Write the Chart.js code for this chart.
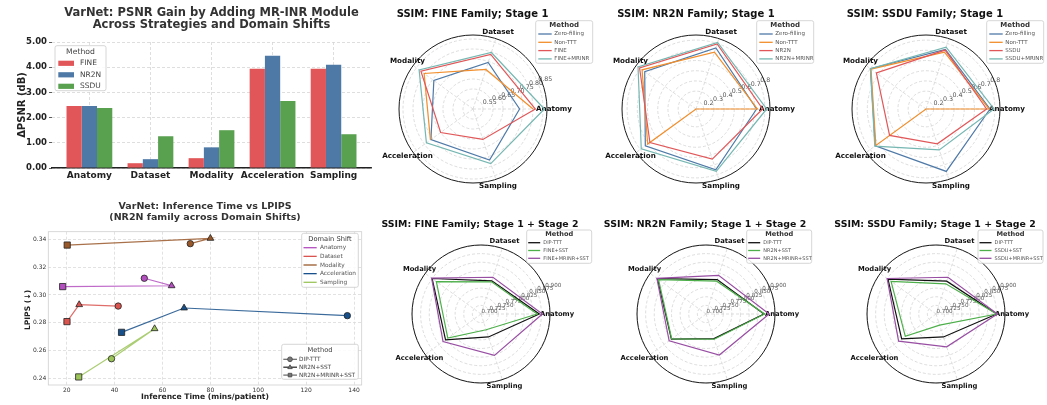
<!DOCTYPE html>
<html>
<head>
<meta charset="utf-8">
<script src="https://cdn.jsdelivr.net/npm/chart.js@4.4.0/dist/chart.umd.min.js"></script>
<style>
  body { margin: 0; background: #fff; width: 1047px; height: 405px; position: relative; overflow: hidden; }
  canvas { position: absolute; }
</style>
</head>
<body>
<canvas id="bars" width="372" height="200" style="left:0;top:0"></canvas>
<canvas id="lpips" width="372" height="205" style="left:0;top:200px"></canvas>
<canvas id="r1" width="228" height="200" style="left:372px;top:0"></canvas>
<canvas id="r2" width="225" height="200" style="left:600px;top:0"></canvas>
<canvas id="r3" width="222" height="200" style="left:825px;top:0"></canvas>
<canvas id="r4" width="228" height="205" style="left:372px;top:200px"></canvas>
<canvas id="r5" width="225" height="205" style="left:600px;top:200px"></canvas>
<canvas id="r6" width="222" height="205" style="left:825px;top:200px"></canvas>
<script>
// ---- data ----
const strategies = ['Anatomy', 'Dataset', 'Modality', 'Acceleration', 'Sampling'];

// PSNR gain (dB) from adding MR-INR
const gainFine = [2.46, 0.19, 0.39, 3.94, 3.94];
const gainNr2n = [2.46, 0.35, 0.82, 4.45, 4.10];
const gainSsdu = [2.38, 1.26, 1.50, 2.66, 1.34];
const gainTicks = [0, 1, 2, 3, 4, 5];

// inference time / LPIPS, order: DIP-TTT, NR2N+SST, NR2N+MRINR+SST
const methodsNr2n = ['DIP-TTT', 'NR2N+SST', 'NR2N+MRINR+SST'];
const timeAnatomy = [52.4, 63.8, 18.3];
const lpipsAnatomy = [0.3120, 0.3066, 0.3060];
const timeDataset = [41.5, 25.2, 20.1];
const lpipsDataset = [0.2920, 0.2930, 0.2808];
const timeModality = [71.6, 80.0, 20.2];
const lpipsModality = [0.3369, 0.3407, 0.3359];
const timeAcceleration = [137.2, 69.0, 42.9];
const lpipsAcceleration = [0.2851, 0.2906, 0.2731];
const timeSampling = [38.7, 56.7, 25.0];
const lpipsSampling = [0.2541, 0.2757, 0.2410];
const timeTicks = [20, 40, 60, 80, 100, 120, 140];
const lpipsTicks = [0.24, 0.26, 0.28, 0.30, 0.32, 0.34];

// SSIM per strategy (Anatomy, Dataset, Modality, Acceleration, Sampling)
const fineZeroFill = [0.733, 0.745, 0.742, 0.760, 0.768];
const fineNonTtt = [0.800, 0.708, 0.802, 0.763, null];
const fineBase = [0.812, 0.787, 0.822, 0.700, 0.660];
const fineMrinr = [0.857, 0.797, 0.833, 0.788, 0.787];

const nr2nZeroFill = [0.719, 0.755, 0.746, 0.739, 0.752];
const nr2nNonTtt = [0.726, 0.710, 0.778, 0.710, 0.125];
const nr2nBase = [0.778, 0.795, 0.808, 0.683, 0.641];
const nr2nMrinr = [0.817, 0.811, 0.827, 0.788, 0.768];

const ssduZeroFill = [0.752, 0.739, 0.798, 0.739, 0.768];
const ssduNonTtt = [0.742, 0.710, 0.791, 0.732, 0.125];
const ssduBase = [0.719, 0.732, 0.726, 0.566, 0.484];
const ssduMrinr = [0.791, 0.762, 0.798, 0.745, 0.546];

const fineDip = [0.869, 0.801, 0.875, 0.827, 0.770];
const fineSst = [0.863, 0.798, 0.860, 0.819, 0.748];
const fineMrinrSst = [0.878, 0.812, 0.877, 0.836, 0.826];

const nr2nDip = [0.868, 0.805, 0.874, 0.824, 0.775];
const nr2nSst = [0.870, 0.800, 0.870, 0.823, 0.777];
const nr2nMrinrSst = [0.883, 0.818, 0.876, 0.832, 0.825];

const ssduDip = [0.876, 0.800, 0.872, 0.823, 0.770];
const ssduSst = [0.876, 0.792, 0.861, 0.810, 0.734];
const ssduMrinrSst = [0.878, 0.812, 0.875, 0.834, 0.800];

const ssimTicksFine = [0.55, 0.60, 0.65, 0.70, 0.75, 0.80, 0.85];
const ssimTicksWide = [0.2, 0.3, 0.4, 0.5, 0.6, 0.7, 0.8];
const ssimTicksStage2 = [0.700, 0.725, 0.750, 0.775, 0.800, 0.825, 0.850, 0.875, 0.900];

// ---- helpers ----
const FAMILY = '"DejaVu Sans", sans-serif';
const font = (size, bold) => (bold ? 'bold ' : '') + size + 'px ' + FAMILY;

function label(ctx, str, x, y, f, color, align = 'center', base = 'middle', rot = 0) {
  ctx.save();
  ctx.font = f;
  ctx.fillStyle = color;
  ctx.textAlign = align;
  ctx.textBaseline = base;
  ctx.translate(x, y);
  ctx.rotate(rot);
  ctx.fillText(str, 0, 0);
  ctx.restore();
}

function legendFrame(ctx, x, y, w, h) {
  ctx.save();
  ctx.fillStyle = 'rgba(255,255,255,0.85)';
  ctx.strokeStyle = '#cccccc';
  ctx.lineWidth = 0.8;
  ctx.beginPath();
  ctx.roundRect(x, y, w, h, 2);
  ctx.fill();
  ctx.stroke();
  ctx.restore();
}

function marker(ctx, style, x, y, r, fill, edge) {
  ctx.save();
  ctx.fillStyle = fill;
  ctx.strokeStyle = edge;
  ctx.lineWidth = 0.8;
  ctx.beginPath();
  if (style === 'circle') ctx.arc(x, y, r, 0, Math.PI * 2);
  else if (style === 'triangle') {
    ctx.moveTo(x, y - r);
    ctx.lineTo(x + r * 0.95, y + r * 0.6);
    ctx.lineTo(x - r * 0.95, y + r * 0.6);
    ctx.closePath();
  } else ctx.rect(x - r * 0.75, y - r * 0.75, r * 1.5, r * 1.5);
  ctx.fill();
  ctx.stroke();
  ctx.restore();
}

// legend with short line samples (used by the radar panels and the domain-shift key)
function lineLegend(ctx, L, title, items) {
  legendFrame(ctx, L.x, L.y, L.w, L.h);
  label(ctx, title, L.x + L.w / 2, L.y + L.titleDy, font(L.titleSize, L.titleBold), '#333');
  items.forEach(([name, color], k) => {
    const y = L.y + L.rowDy + k * L.rowStep;
    ctx.save();
    ctx.strokeStyle = color;
    ctx.lineWidth = 1.3;
    ctx.beginPath();
    ctx.moveTo(L.x + L.lineX0, y);
    ctx.lineTo(L.x + L.lineX1, y);
    ctx.stroke();
    ctx.restore();
    label(ctx, name, L.x + L.textX, y, font(L.textSize), '#555', 'left');
  });
}

// matplotlib-style counter-clockwise order starting at 3 o'clock
const ccw = a => [a[0], a[4], a[3], a[2], a[1]];

// ---- PSNR gain bars ----
const barColors = ['#e15759', '#4e79a7', '#59a14f'];
const barSeries = [['FINE', gainFine], ['NR2N', gainNr2n], ['SSDU', gainSsdu]];

const barDecor = {
  id: 'barDecor',
  afterDraw(chart) {
    const ctx = chart.ctx;
    label(ctx, 'VarNet: PSNR Gain by Adding MR-INR Module', 211.5, 12.7, font(11.5, true), '#333');
    label(ctx, 'Across Strategies and Domain Shifts', 211.5, 25.3, font(11.5, true), '#333');
    label(ctx, 'ΔPSNR (dB)', 22, 105, font(10, true), '#222', 'center', 'middle', -Math.PI / 2);
    legendFrame(ctx, 55, 45.7, 51, 45);
    label(ctx, 'Method', 80.5, 52.3, font(7.7), '#444');
    barSeries.forEach(([name], k) => {
      const y = 63.3 + k * 11.5;
      ctx.fillStyle = barColors[k];
      ctx.fillRect(58.3, y - 2.6, 15.7, 5.2);
      label(ctx, name, 80, y, font(7.5), '#444', 'left');
    });
  }
};

new Chart(document.getElementById('bars'), {
  type: 'bar',
  data: {
    datasets: barSeries.map(([name, vals], k) => ({
      label: name,
      data: vals.map((v, i) => ({ x: i, y: v })),
      backgroundColor: barColors[k],
      borderWidth: 0,
      categoryPercentage: 0.75,
      barPercentage: 1.0
    }))
  },
  options: {
    responsive: false,
    animation: false,
    layout: { padding: { left: 8, right: 1, top: 42, bottom: 10 } },
    plugins: { legend: { display: false }, tooltip: { enabled: false } },
    scales: {
      x: {
        type: 'linear', min: -0.6125, max: 4.6125, offset: false,
        afterBuildTicks: s => { s.ticks = strategies.map((_, i) => ({ value: i })); },
        afterFit: s => { s.height = 22; },
        ticks: { callback: v => strategies[v], font: { family: FAMILY, size: 9, weight: 'bold' }, color: '#222', padding: 2, maxRotation: 0 },
        grid: { offset: false, color: '#d6d6d6', lineWidth: 0.8, drawTicks: false },
        border: { color: '#222', width: 1.6, dash: [3, 2] }
      },
      y: {
        min: 0, max: 5,
        afterBuildTicks: s => { s.ticks = gainTicks.map(v => ({ value: v })); },
        afterFit: s => { s.width = 44; },
        ticks: { callback: v => v.toFixed(2), font: { family: FAMILY, size: 8.5, weight: 'bold' }, color: '#222', padding: 2 },
        grid: { color: '#d6d6d6', lineWidth: 0.8, tickLength: 3, tickColor: '#333', tickBorderDash: [] },
        border: { display: false, dash: [3, 2] }
      }
    }
  },
  plugins: [barDecor]
});

// ---- inference time vs LPIPS ----
const shiftColors = ['#b44fbf', '#d9534f', '#99582a', '#17508a', '#9cc45a'];
const shiftSeries = [
  ['Anatomy', timeAnatomy, lpipsAnatomy],
  ['Dataset', timeDataset, lpipsDataset],
  ['Modality', timeModality, lpipsModality],
  ['Acceleration', timeAcceleration, lpipsAcceleration],
  ['Sampling', timeSampling, lpipsSampling]
];
const methodMarks = ['circle', 'triangle', 'rect'];

const scatterDecor = {
  id: 'scatterDecor',
  beforeDatasetsDraw(chart) {
    const { ctx, chartArea: a } = chart;
    ctx.save();
    ctx.strokeStyle = '#cfcfcf';
    ctx.lineWidth = 0.8;
    ctx.strokeRect(a.left, a.top, a.right - a.left, a.bottom - a.top);
    ctx.restore();
  },
  afterDraw(chart) {
    const ctx = chart.ctx;
    label(ctx, 'VarNet: Inference Time vs LPIPS', 205, 6.7, font(9.5, true), '#333');
    label(ctx, '(NR2N family across Domain Shifts)', 205, 17.7, font(9.5, true), '#333');
    label(ctx, 'Inference Time (mins/patient)', 205, 196.7, font(7.6, true), '#222');
    label(ctx, 'LPIPS (↓)', 28, 110, font(7.6, true), '#222', 'center', 'middle', -Math.PI / 2);
    lineLegend(ctx, { x: 301.7, y: 33.3, w: 56.6, h: 54, titleDy: 6, titleSize: 6.7, rowDy: 14.4, rowStep: 8.65,
      lineX0: 1.8, lineX1: 15, textX: 18.3, textSize: 5.8 }, 'Domain Shift',
      shiftSeries.map(([name], k) => [name, shiftColors[k]]));
    legendFrame(ctx, 281.7, 144.3, 76.6, 35);
    label(ctx, 'Method', 320, 150, font(6.7), '#444');
    methodsNr2n.forEach((name, k) => {
      const y = 159.3 + k * 7.9;
      ctx.save();
      ctx.strokeStyle = k === 1 ? '#222' : '#666';
      ctx.lineWidth = 1.2;
      ctx.beginPath(); ctx.moveTo(283.3, y); ctx.lineTo(297, y); ctx.stroke();
      ctx.restore();
      marker(ctx, methodMarks[k], 290, y, 2.4, '#777', '#444');
      label(ctx, name, 299, y, font(5.8), '#444', 'left');
    });
  }
};

new Chart(document.getElementById('lpips'), {
  type: 'scatter',
  data: {
    datasets: shiftSeries.map(([name, t, l], k) => ({
      label: name,
      data: t.map((v, j) => ({ x: v, y: l[j] })),
      showLine: true,
      borderColor: shiftColors[k] + 'd9',
      borderWidth: 1.2,
      pointStyle: methodMarks,
      pointRadius: [3.2, 3.9, 4.4],
      pointBackgroundColor: shiftColors[k],
      pointBorderColor: '#222',
      pointBorderWidth: 0.8
    }))
  },
  options: {
    responsive: false,
    animation: false,
    layout: { padding: { left: 10.3, right: 10.3, top: 31.7, bottom: 0 } },
    plugins: { legend: { display: false }, tooltip: { enabled: false } },
    scales: {
      x: {
        type: 'linear', min: 12.3, max: 143.2,
        afterBuildTicks: s => { s.ticks = timeTicks.map(v => ({ value: v })); },
        afterFit: s => { s.height = 20; },
        ticks: { font: { family: FAMILY, size: 6 }, color: '#333', padding: 1.5, maxRotation: 0 },
        grid: { color: '#dadada', lineWidth: 0.8, drawTicks: false },
        border: { display: false, dash: [3, 2] }
      },
      y: {
        min: 0.2352, max: 0.3455,
        afterBuildTicks: s => { s.ticks = lpipsTicks.map(v => ({ value: v })); },
        afterFit: s => { s.width = 38; },
        ticks: { callback: v => v.toFixed(2), font: { family: FAMILY, size: 6 }, color: '#333', padding: 2 },
        grid: { color: '#dadada', lineWidth: 0.8, drawTicks: false },
        border: { display: false, dash: [3, 2] }
      }
    }
  },
  plugins: [scatterDecor]
});

// ---- SSIM radars ----
const stage1Colors = ['#4e79a7', '#f28e2b', '#e15759', '#76b7b2'];
const stage2Colors = ['#111111', '#4daf4a', '#984ea3'];
const legendStage1 = { w: 57, h: 42.6, titleDy: 4.8, titleSize: 7, titleBold: true, rowDy: 13.3, rowStep: 8.3,
  lineX0: 2.6, lineX1: 16, textX: 18.6, textSize: 5.5 };
const legendStage2 = { w: 65, h: 33.3, titleDy: 4.4, titleSize: 6.6, titleBold: true, rowDy: 12.7, rowStep: 7.8,
  lineX0: 1.5, lineX1: 13.5, textX: 16.6, textSize: 5 };

function radarDecor(cfg) {
  return {
    id: 'radarDecor',
    beforeDatasetsDraw(chart) {
      const ctx = chart.ctx, r = chart.scales.r;
      const a = Math.PI / 8;
      cfg.ticks.forEach(v => {
        const d = r.getDistanceFromCenterForValue(v);
        label(ctx, v.toFixed(cfg.digits), r.xCenter + d * Math.cos(a) + 0.5, r.yCenter - d * Math.sin(a) + 0.5,
          font(cfg.tickSize), '#555', 'left', 'bottom');
      });
      chart.data.labels.forEach((name, i) => {
        const p = r.getPointPosition(i, r.drawingArea + 7);
        label(ctx, name, p.x, p.y, font(cfg.labelSize, true), '#111');
      });
    },
    afterDatasetsDraw(chart) {
      const ctx = chart.ctx, r = chart.scales.r;
      ctx.save();
      ctx.strokeStyle = '#1a1a1a';
      ctx.lineWidth = 1;
      ctx.beginPath();
      ctx.arc(r.xCenter, r.yCenter, r.drawingArea, 0, Math.PI * 2);
      ctx.stroke();
      ctx.restore();
      label(ctx, cfg.title, cfg.titleX, cfg.titleY, font(cfg.titleSize, true), '#111');
      lineLegend(ctx, Object.assign({ x: cfg.legendX, y: cfg.legendY }, cfg.legend), 'Method',
        chart.data.datasets.map(ds => [ds.label, ds.borderColor]));
    }
  };
}

function makeRadar(id, cfg) {
  const n = cfg.series.length;
  new Chart(document.getElementById(id), {
    type: 'radar',
    data: {
      labels: ccw(strategies),
      datasets: cfg.series.map(([name, vals], i) => ({
        label: name,
        data: ccw(vals),
        borderColor: cfg.colors[i],
        borderWidth: 1.2,
        pointRadius: 0,
        fill: false,
        order: n - 1 - i
      }))
    },
    options: {
      responsive: false,
      animation: false,
      layout: { padding: cfg.pad },
      plugins: { legend: { display: false }, tooltip: { enabled: false } },
      scales: {
        r: {
          min: cfg.min, max: cfg.max, startAngle: 90,
          afterBuildTicks: s => { s.ticks = [cfg.min, ...cfg.ticks].map(v => ({ value: v })); },
          ticks: { display: false },
          pointLabels: { display: false },
          grid: { circular: true, color: '#d4d4d4', lineWidth: 0.8 },
          border: { dash: [3, 2] },
          angleLines: { color: '#d4d4d4', lineWidth: 0.8, borderDash: [3, 2] }
        }
      }
    },
    plugins: [radarDecor(cfg)]
  });
}

const stage1Base = { tickSize: 6.3, labelSize: 7.2, titleSize: 10, titleY: 14.7, legendY: 20.7,
  legend: legendStage1, colors: stage1Colors };
const stage2Base = { tickSize: 5.6, labelSize: 6.8, titleSize: 9.4, titleY: 24.4, legendY: 30,
  legend: legendStage2, colors: stage2Colors, min: 0.7, max: 0.9, ticks: ssimTicksStage2, digits: 3 };

makeRadar('r1', Object.assign({}, stage1Base, {
  title: 'SSIM: FINE Family; Stage 1', titleX: 100.5, legendX: 163.7,
  pad: { left: 27, top: 35, right: 53, bottom: 17 },
  min: 0.5, max: 0.87, ticks: ssimTicksFine, digits: 2,
  series: [['Zero-filling', fineZeroFill], ['Non-TTT', fineNonTtt], ['FINE', fineBase], ['FINE+MRINR', fineMrinr]]
}));
makeRadar('r2', Object.assign({}, stage1Base, {
  title: 'SSIM: NR2N Family; Stage 1', titleX: 96, legendX: 156.7,
  pad: { left: 22, top: 35, right: 55, bottom: 17 },
  min: 0.125, max: 0.85, ticks: ssimTicksWide, digits: 1,
  series: [['Zero-filling', nr2nZeroFill], ['Non-TTT', nr2nNonTtt], ['NR2N', nr2nBase], ['NR2N+MRINR', nr2nMrinr]]
}));
makeRadar('r3', Object.assign({}, stage1Base, {
  title: 'SSIM: SSDU Family; Stage 1', titleX: 100, legendX: 161.7,
  pad: { left: 27, top: 35, right: 47, bottom: 17 },
  min: 0.125, max: 0.85, ticks: ssimTicksWide, digits: 1,
  series: [['Zero-filling', ssduZeroFill], ['Non-TTT', ssduNonTtt], ['SSDU', ssduBase], ['SSDU+MRINR', ssduMrinr]]
}));
makeRadar('r4', Object.assign({}, stage2Base, {
  title: 'SSIM: FINE Family; Stage 1 + Stage 2', titleX: 108, legendX: 154.7,
  pad: { left: 40, top: 45, right: 50, bottom: 22 },
  series: [['DIP-TTT', fineDip], ['FINE+SST', fineSst], ['FINE+MRINR+SST', fineMrinrSst]]
}));
makeRadar('r5', Object.assign({}, stage2Base, {
  title: 'SSIM: NR2N Family; Stage 1 + Stage 2', titleX: 105, legendX: 146.7,
  pad: { left: 37, top: 45, right: 50, bottom: 22 },
  series: [['DIP-TTT', nr2nDip], ['NR2N+SST', nr2nSst], ['NR2N+MRINR+SST', nr2nMrinrSst]]
}));
makeRadar('r6', Object.assign({}, stage2Base, {
  title: 'SSIM: SSDU Family; Stage 1 + Stage 2', titleX: 110, legendX: 153,
  pad: { left: 42, top: 45, right: 42, bottom: 22 },
  series: [['DIP-TTT', ssduDip], ['SSDU+SST', ssduSst], ['SSDU+MRINR+SST', ssduMrinrSst]]
}));
</script>
</body>
</html>
